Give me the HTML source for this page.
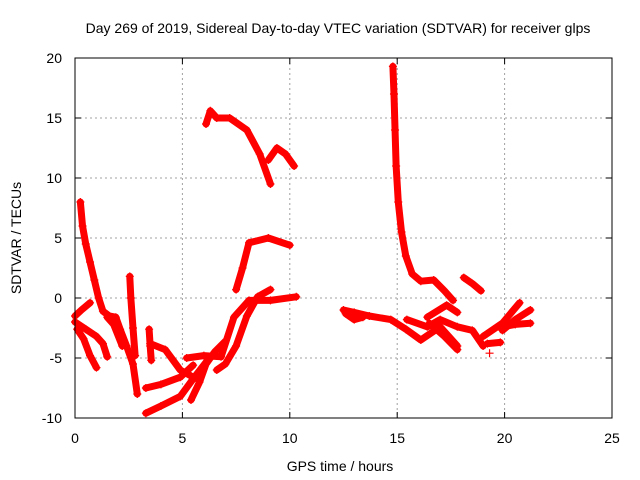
<!DOCTYPE html>
<html><head><meta charset="utf-8"><style>
body{margin:0;background:#fff}
svg{display:block;font-family:"Liberation Sans",sans-serif}
</style></head><body>
<svg id="chart" width="640" height="480">
<text x="338" y="33" text-anchor="middle" font-size="14">Day 269 of 2019, Sidereal Day-to-day VTEC variation (SDTVAR) for receiver glps</text>
<text transform="translate(21,238) rotate(-90)" text-anchor="middle" font-size="14">SDTVAR / TECUs</text>
<text x="340" y="471" text-anchor="middle" font-size="14">GPS time / hours</text>
<g id="grid"></g><g id="ticks"></g><g id="marks"></g>
<rect x="75" y="58" width="537" height="360" fill="none" stroke="#000" stroke-width="1"/>
</svg>
<script>
const xTicks=[0,5,10,15,20,25];
const yTicks=[-10,-5,0,5,10,15,20];
const t1=[[0.25,8],[0.35,6],[0.5,4.5],[0.7,3],[0.9,1.5],[1.1,0],[1.3,-1.1],[1.6,-1.5],[1.9,-1.6],[2.1,-2.6],[2.4,-4],[2.7,-5.5],[2.9,-8]];
const t2=[[0,-1.5],[0.3,-1],[0.7,-0.4]];
const t3=[[0,-2],[0.5,-2.6],[1,-3.2],[1.3,-3.8],[1.5,-4.9]];
const t4=[[0.1,-2.6],[0.4,-3.4],[0.7,-4.8],[1,-5.8]];
const t5=[[2.55,1.8],[2.6,0],[2.7,-2.5],[2.8,-4.8]];
const t6=[[1.5,-1.6],[1.8,-2.2],[2.2,-4]];
const t7=[[3.45,-2.6],[3.5,-4],[3.55,-5.2]];
const t8=[[3.5,-3.8],[4.2,-4.3],[4.9,-6],[5.4,-6.5],[5.8,-6.8]];
const t9=[[3.3,-9.6],[4,-9],[4.9,-8.2],[5.6,-6.5],[6.3,-4.9]];
const t10=[[3.3,-7.5],[4,-7.2],[4.9,-6.6],[5.5,-5.6]];
const t11=[[5.4,-8.5],[5.8,-7],[6.1,-5.5],[6.5,-4.5],[7,-3.6]];
const t12=[[5.2,-5],[6,-4.8],[6.8,-4.9],[7.4,-1.6],[8.1,-0.2],[9.1,-0.2],[10.3,0.1]];
const t13=[[6.6,-6],[7,-5.5],[7.5,-4],[8,-1.5],[8.5,0.1],[9.1,0.7]];
const t14=[[7.5,0.7],[7.8,2.5],[8.1,4.6],[9,5],[10,4.4]];
const t15=[[6.1,14.5],[6.3,15.6],[6.6,15],[7.2,15],[8,14],[8.6,12],[9.1,9.5]];
const t16=[[9,11.5],[9.4,12.5],[9.8,12],[10.2,11]];
const t17=[[14.8,19.3],[14.85,17],[14.9,14],[14.95,11],[15.05,8],[15.2,5.5],[15.4,3.5],[15.7,2],[16.1,1.4],[16.7,1.5],[17.2,0.6],[17.6,-0.2]];
const t18=[[18.1,1.7],[18.5,1.2],[18.9,0.6]];
const t19=[[12.5,-1],[13,-1.2],[13.7,-1.5],[14.7,-1.8],[15.4,-2.6],[16.1,-3.5],[17,-2.4],[17.8,-4]];
const t20=[[12.6,-1.3],[13,-1.8],[13.4,-1.6]];
const t21=[[15.45,-1.8],[16.4,-2.4],[17,-1.8],[17.8,-2.4],[18.5,-2.7],[19,-4]];
const t22=[[16.4,-1.6],[17.3,-0.6],[17.8,-1.2]];
const t23=[[16.5,-2.1],[17.2,-3.2],[17.8,-4.3]];
const t24=[[19,-3.2],[19.9,-2.1],[20.7,-0.4]];
const t25=[[19.2,-3.8],[19.8,-3.7]];
const t26=[[19.9,-2.7],[20.5,-1.8],[21.2,-1]];
const t27=[[19.9,-2.4],[20.5,-2.2],[21.2,-2.1]];
const t28=[[19.3,-4.6]];
const tracks=[t1,t2,t3,t4,t5,t6,t7,t8,t9,t10,t11,t12,t13,t14,t15,t16,t17,t18,t19,t20,t21,t22,t23,t24,t25,t26,t27,t28];
const X=v=>75+v*537/25;
const Y=v=>418-(v+10)*12;
const NS="http://www.w3.org/2000/svg";
const grid=document.getElementById('grid'),ticks=document.getElementById('ticks'),marks=document.getElementById('marks');
function mk(tag,attrs,parent){const e=document.createElementNS(NS,tag);for(const k in attrs)e.setAttribute(k,attrs[k]);parent.appendChild(e);return e;}
xTicks.forEach(t=>{
 const g=mk('line',{x1:X(t),x2:X(t),y1:58,y2:418,stroke:'#a0a0a0','stroke-dasharray':'2,3'},grid);
 
 
 mk('line',{x1:X(t),x2:X(t),y1:418,y2:412,stroke:'#000'},ticks);
 mk('line',{x1:X(t),x2:X(t),y1:58,y2:64,stroke:'#000'},ticks);
 const l=mk('text',{x:X(t),y:443,'text-anchor':'middle','font-size':14},ticks);l.textContent=t;
 
 
});
yTicks.forEach(t=>{
 const g=mk('line',{x1:75,x2:612,y1:Y(t),y2:Y(t),stroke:'#a0a0a0','stroke-dasharray':'2,3'},grid);
 
 
 mk('line',{x1:75,x2:81,y1:Y(t),y2:Y(t),stroke:'#000'},ticks);
 mk('line',{x1:612,x2:606,y1:Y(t),y2:Y(t),stroke:'#000'},ticks);
 const l=mk('text',{x:62,y:Y(t)+5,'text-anchor':'end','font-size':14},ticks);l.textContent=t;
 
 
});
tracks.forEach(tr=>{
 if(tr.length>1){
  const p=mk('polyline',{points:tr.map(d=>X(d[0])+','+Y(d[1])).join(' '),fill:'none',stroke:'#f00','stroke-width':7,'stroke-linejoin':'round','stroke-linecap':'round'},marks);
  
  
 }
 tr.forEach(d=>{
  const m=mk('path',{d:`M${X(d[0])-4},${Y(d[1])}h8M${X(d[0])},${Y(d[1])-4}v8`,stroke:'#f00','stroke-width':1.2},marks);
  
  
 });
});
</script>
</body></html>
